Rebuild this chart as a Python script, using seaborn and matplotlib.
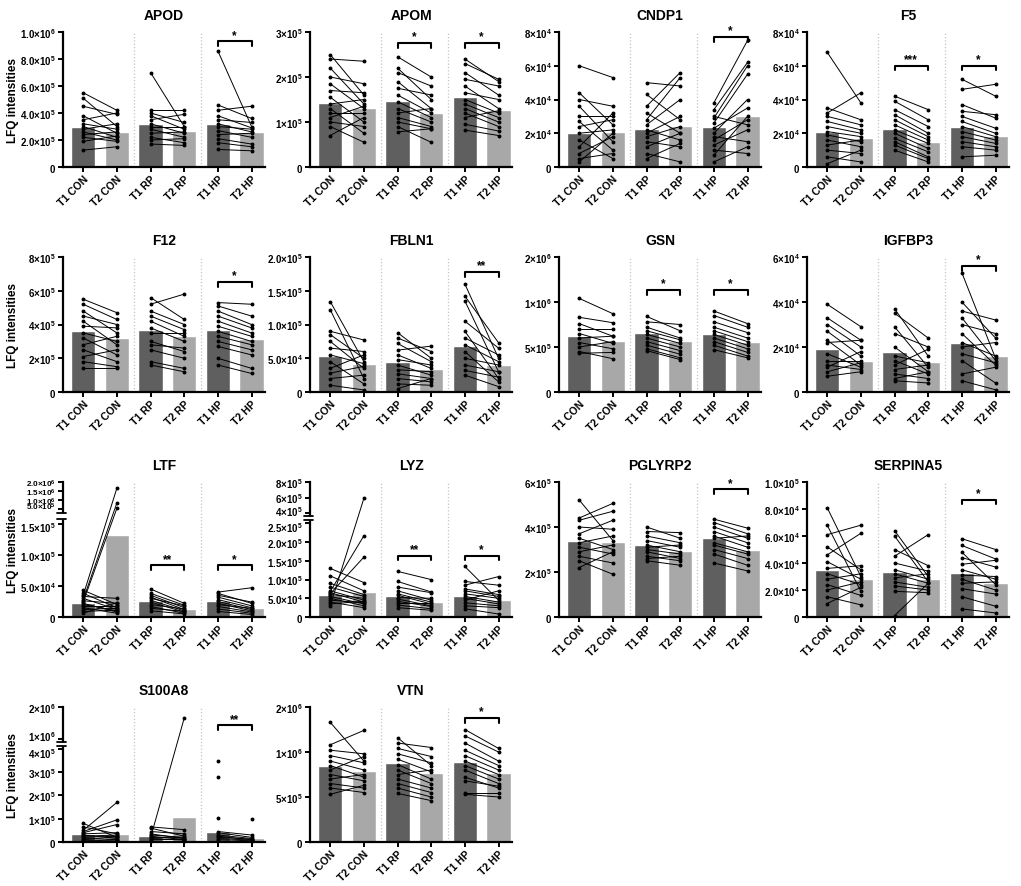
import numpy as np
import pandas as pd
import seaborn as sns
import matplotlib
matplotlib.use('Agg')
import matplotlib.pyplot as plt
import matplotlib.transforms as mtransforms

sns.set_style('ticks')
plt.rcParams['font.family'] = ['Liberation Sans', 'DejaVu Sans']
plt.rcParams['mathtext.fontset'] = 'custom'
plt.rcParams['mathtext.rm'] = 'Liberation Sans'
plt.rcParams['mathtext.bf'] = 'Liberation Sans:bold'
for k in ('text.color', 'axes.labelcolor', 'xtick.color', 'ytick.color', 'axes.edgecolor'):
    plt.rcParams[k] = 'black'

groups = ['T1 CON', 'T2 CON', 'T1 RP', 'T2 RP', 'T1 HP', 'T2 HP']

# each protein: bar means, paired subjects (T1 -> T2) for CON / RP / HP,
# y ticks (same unit as the values), tick labels, significance (group, y, stars)

# APOD, values in 1e5
APOD_bars = [3.0, 2.6, 3.15, 2.65, 3.2, 2.6]
APOD_t1 = [[5.5, 5.1, 4.5, 3.8, 3.5, 3.2, 3.0, 2.8, 2.6, 2.4, 2.2, 1.9, 1.25],
           [7.0, 4.2, 4.0, 3.8, 3.5, 3.2, 3.0, 2.8, 2.5, 2.2, 2.0, 1.7],
           [8.6, 4.6, 4.2, 3.8, 3.5, 3.2, 3.0, 2.7, 2.4, 2.1, 1.8, 1.3]]
APOD_t2 = [[4.2, 3.0, 3.9, 2.5, 4.0, 2.8, 2.2, 3.2, 2.0, 2.6, 1.9, 2.3, 1.5],
           [3.0, 4.2, 3.3, 2.8, 3.9, 2.5, 3.0, 2.2, 2.6, 1.8, 2.1, 1.6],
           [3.0, 3.6, 4.5, 2.9, 3.3, 2.6, 2.8, 2.2, 2.5, 1.7, 1.5, 1.2]]
APOD_ticks = [0, 2, 4, 6, 8, 10]
APOD_labels = ['0', '2.0×10^5', '4.0×10^5', '6.0×10^5', '8.0×10^5', '1.0×10^6']
APOD_sig = [(2, 9.3, '*')]

# APOM, values in 1e5
APOM_bars = [1.43, 1.32, 1.46, 1.19, 1.55, 1.26]
APOM_t1 = [[2.5, 2.4, 2.2, 2.0, 1.85, 1.7, 1.55, 1.4, 1.3, 1.2, 1.1, 1.0, 0.9, 0.7],
           [2.45, 2.2, 2.1, 1.9, 1.75, 1.6, 1.45, 1.3, 1.2, 1.1, 1.0, 0.9, 0.78],
           [2.4, 2.3, 2.1, 1.95, 1.8, 1.65, 1.5, 1.4, 1.3, 1.2, 1.1, 0.95, 0.82]]
APOM_t2 = [[1.6, 2.35, 1.4, 1.85, 1.3, 1.65, 1.0, 1.5, 0.75, 1.2, 1.35, 0.9, 0.55, 1.1],
           [2.0, 1.5, 1.8, 1.3, 1.6, 1.2, 1.1, 1.0, 1.3, 0.9, 0.85, 0.55, 0.85],
           [1.9, 1.95, 1.6, 1.8, 1.3, 1.5, 1.2, 1.1, 1.0, 0.9, 1.25, 0.8, 0.7]]
APOM_ticks = [0, 1, 2, 3]
APOM_labels = ['0', '1×10^5', '2×10^5', '3×10^5']
APOM_sig = [(1, 2.75, '*'), (2, 2.75, '*')]

# CNDP1, values in 1e4
CNDP1_bars = [2.0, 2.1, 2.25, 2.45, 2.35, 3.0]
CNDP1_t1 = [[6.0, 4.4, 4.0, 3.6, 3.0, 2.7, 2.4, 2.0, 1.6, 1.2, 0.8, 0.5, 0.3],
            [5.0, 4.3, 3.6, 3.2, 2.8, 2.5, 2.2, 2.0, 1.8, 1.5, 1.2, 0.8, 0.5],
            [3.8, 3.4, 3.0, 2.9, 2.6, 2.3, 2.0, 1.8, 1.6, 1.3, 1.0, 0.7, 0.3]]
CNDP1_t2 = [[5.3, 2.5, 3.6, 1.5, 3.0, 1.0, 2.8, 2.2, 0.5, 3.2, 1.8, 0.8, 2.0],
            [4.8, 2.8, 5.6, 2.0, 5.3, 4.0, 1.6, 3.0, 2.4, 1.2, 2.0, 0.3, 1.4],
            [7.5, 6.2, 2.5, 6.0, 5.5, 3.5, 4.0, 1.5, 2.8, 2.2, 0.8, 3.0, 1.2]]
CNDP1_ticks = [0, 2, 4, 6, 8]
CNDP1_labels = ['0', '2×10^4', '4×10^4', '6×10^4', '8×10^4']
CNDP1_sig = [(2, 7.7, '*')]

# F5, values in 1e4
F5_bars = [2.05, 1.7, 2.25, 1.5, 2.4, 1.85]
F5_t1 = [[6.8, 3.5, 3.2, 3.0, 2.7, 2.4, 2.1, 1.9, 1.6, 1.3, 1.0, 0.6, 0.2],
         [4.2, 3.9, 3.4, 3.1, 2.8, 2.5, 2.2, 2.0, 1.7, 1.5, 1.3, 1.0],
         [5.2, 4.6, 3.7, 3.3, 3.0, 2.7, 2.4, 2.1, 1.8, 1.5, 1.2, 0.6]]
F5_t2 = [[3.8, 2.8, 4.4, 2.5, 2.2, 2.0, 1.8, 1.5, 1.2, 1.6, 0.8, 0.3, 1.0],
         [3.4, 2.8, 2.4, 2.0, 1.8, 1.6, 1.4, 1.1, 0.9, 0.6, 0.5, 0.3],
         [4.2, 4.9, 2.9, 3.1, 2.3, 2.0, 1.8, 1.6, 1.4, 1.2, 1.0, 0.7]]
F5_ticks = [0, 2, 4, 6, 8]
F5_labels = ['0', '2×10^4', '4×10^4', '6×10^4', '8×10^4']
F5_sig = [(1, 6.0, '***'), (2, 6.0, '*')]

# F12, values in 1e5
F12_bars = [3.6, 3.2, 3.7, 3.3, 3.65, 3.15]
F12_t1 = [[5.5, 5.2, 4.8, 4.5, 4.2, 3.9, 3.5, 3.2, 2.8, 2.5, 2.1, 1.8, 1.4],
          [5.6, 5.2, 4.8, 4.5, 4.2, 3.8, 3.5, 3.0, 2.8, 2.5, 1.8, 1.6],
          [5.3, 5.1, 4.8, 4.5, 4.2, 3.9, 3.6, 3.3, 3.0, 2.7, 2.0, 1.6]]
F12_t2 = [[4.7, 4.3, 3.5, 4.0, 2.8, 3.8, 3.0, 2.2, 3.3, 1.8, 2.5, 1.5, 1.4],
          [4.3, 5.8, 4.0, 3.7, 3.3, 3.0, 3.5, 2.4, 2.6, 2.0, 1.4, 1.2],
          [5.2, 4.5, 4.0, 3.8, 3.5, 3.3, 3.0, 2.8, 2.5, 2.2, 1.4, 1.1]]
F12_ticks = [0, 2, 4, 6, 8]
F12_labels = ['0', '2×10^5', '4×10^5', '6×10^5', '8×10^5']
F12_sig = [(2, 6.5, '*')]

# FBLN1, values in 1e4
FBLN1_bars = [5.35, 4.2, 4.5, 3.4, 6.8, 4.05]
FBLN1_t1 = [[13.4, 12.2, 9.0, 8.5, 7.5, 6.5, 5.5, 4.5, 3.5, 2.8, 2.0, 1.0],
            [8.8, 8.0, 7.2, 6.2, 5.5, 4.8, 4.0, 3.3, 2.7, 2.0, 1.2, 0.5],
            [16.0, 14.2, 13.5, 10.5, 9.0, 8.0, 7.0, 6.0, 5.0, 4.0, 3.2, 2.5]]
FBLN1_t2 = [[4.5, 2.0, 7.7, 5.0, 3.5, 6.0, 4.2, 1.2, 5.5, 3.8, 2.5, 0.3],
            [5.0, 6.0, 4.5, 6.8, 3.5, 4.0, 2.5, 3.0, 2.0, 1.5, 1.0, 2.0],
            [5.0, 7.3, 3.0, 6.5, 2.0, 5.5, 4.5, 1.5, 4.0, 3.0, 2.2, 0.8]]
FBLN1_ticks = [0, 5, 10, 15, 20]
FBLN1_labels = ['0', '5.0×10^4', '1.0×10^5', '1.5×10^5', '2.0×10^5']
FBLN1_sig = [(2, 17.8, '**')]

# GSN, values in 1e5 (top tick is labelled 2×10^6 in the source)
GSN_bars = [6.25, 5.7, 6.6, 5.7, 6.45, 5.6]
GSN_t1 = [[10.4, 8.3, 7.6, 7.0, 6.5, 6.0, 5.5, 5.0, 4.5, 4.3],
          [8.4, 7.8, 7.2, 6.8, 6.4, 6.0, 5.6, 5.2, 4.8, 4.6],
          [9.0, 8.5, 7.8, 7.2, 6.8, 6.4, 6.0, 5.6, 5.2, 4.7]]
GSN_t2 = [[8.7, 7.7, 6.2, 7.0, 5.4, 6.2, 4.8, 5.6, 3.7, 4.4],
          [6.8, 7.5, 6.0, 5.8, 5.4, 5.0, 4.6, 4.2, 3.8, 3.6],
          [7.6, 7.2, 6.6, 6.0, 5.6, 5.2, 4.8, 4.4, 4.0, 3.8]]
GSN_ticks = [0, 5, 10, 15]
GSN_labels = ['0', '5×10^5', '1×10^6', '2×10^6']
GSN_sig = [(1, 11.3, '*'), (2, 11.3, '*')]

# IGFBP3, values in 1e4
IGFBP3_bars = [1.9, 1.4, 1.8, 1.35, 2.2, 1.6]
IGFBP3_t1 = [[3.9, 3.3, 3.0, 2.7, 2.3, 2.2, 1.7, 1.4, 1.2, 1.1, 0.9, 0.7],
             [3.7, 3.5, 2.9, 2.6, 2.0, 1.6, 1.4, 1.2, 1.0, 0.8, 0.6, 0.5],
             [5.3, 4.0, 3.6, 3.3, 3.0, 2.6, 2.2, 2.0, 1.7, 1.4, 0.8, 0.5]]
IGFBP3_t2 = [[2.9, 2.3, 2.0, 1.6, 1.2, 2.3, 1.1, 1.4, 1.0, 1.8, 1.3, 0.9],
             [1.6, 2.4, 1.1, 2.0, 0.9, 1.3, 0.8, 1.9, 1.2, 0.6, 0.9, 0.4],
             [1.5, 2.4, 3.2, 1.4, 2.6, 1.2, 1.6, 2.2, 1.3, 0.4, 1.1, 0.1]]
IGFBP3_ticks = [0, 2, 4, 6]
IGFBP3_labels = ['0', '2×10^4', '4×10^4', '6×10^4']
IGFBP3_sig = [(2, 5.6, '*')]

# LTF, values in 1e4, broken axis
LTF_bars = [2.3, 13.1, 2.65, 1.3, 2.5, 1.5]
LTF_t1 = [[4.3, 3.8, 3.3, 3.0, 2.6, 2.2, 2.0, 1.8, 1.5, 1.2, 0.9, 0.6, 3.5, 2.8, 2.4],
          [4.5, 3.8, 3.5, 3.2, 3.0, 2.7, 2.4, 2.0, 1.7, 1.4, 1.0],
          [4.0, 3.8, 3.5, 3.2, 2.8, 2.5, 2.2, 2.0, 1.7, 1.3, 0.9]]
LTF_t2 = [[2.0, 1.5, 3.0, 1.2, 2.2, 0.8, 1.0, 1.8, 0.6, 1.4, 1.1, 2.3, 165, 82, 52],
          [2.2, 1.9, 1.5, 1.2, 1.8, 1.0, 0.8, 1.3, 0.6, 0.9, 0.5],
          [4.7, 2.2, 2.4, 1.8, 1.5, 1.2, 1.0, 1.4, 0.8, 0.6, 0.4]]
LTF_ticks = [0, 5, 10, 15, 50, 100, 150, 200]
LTF_labels = ['0', '5.0×10^4', '1.0×10^5', '1.5×10^5',
              '5.0×10^5', '1.0×10^6', '1.5×10^6', '2.0×10^6']
LTF_sig = [(1, 8.3, '**'), (2, 8.3, '*')]

# LYZ, values in 1e4, broken axis
LYZ_bars = [6.0, 6.6, 5.7, 4.1, 5.7, 4.5]
LYZ_t1 = [[13.0, 11.0, 9.0, 8.0, 7.0, 6.5, 6.0, 5.5, 5.0, 4.5, 4.0, 3.5, 3.0, 6.8, 6.2],
          [12.2, 9.5, 8.0, 7.0, 6.2, 5.8, 5.2, 4.8, 4.2, 3.8, 3.2, 2.5],
          [13.5, 9.5, 8.5, 7.5, 7.0, 6.2, 5.5, 5.0, 4.5, 3.8, 3.0, 2.2]]
LYZ_t2 = [[9.2, 7.0, 6.0, 5.5, 4.5, 4.0, 5.0, 3.5, 3.0, 3.8, 2.5, 4.2, 59, 21.7, 16.0],
          [10.0, 6.7, 6.5, 4.5, 4.0, 3.5, 5.0, 3.0, 2.8, 3.8, 2.2, 1.8],
          [4.5, 8.5, 10.8, 6.0, 5.5, 5.0, 4.0, 3.5, 7.0, 3.0, 2.5, 0.8]]
LYZ_ticks = [0, 5, 10, 15, 20, 25, 40, 60, 80]
LYZ_labels = ['0', '5.0×10^4', '1.0×10^5', '1.5×10^5', '2.0×10^5', '2.5×10^5',
              '4×10^5', '6×10^5', '8×10^5']
LYZ_sig = [(1, 16.4, '**'), (2, 16.4, '*')]

# PGLYRP2, values in 1e5
PGLYRP2_bars = [3.38, 3.32, 3.2, 2.93, 3.52, 2.98]
PGLYRP2_t1 = [[5.2, 4.4, 4.3, 4.0, 3.7, 3.5, 3.3, 3.1, 2.9, 2.7, 2.5, 2.2],
              [4.0, 3.8, 3.6, 3.4, 3.2, 3.1, 3.0, 2.9, 2.7, 2.6, 2.5],
              [4.35, 4.2, 4.0, 3.8, 3.6, 3.5, 3.3, 3.2, 3.0, 2.8, 2.4]]
PGLYRP2_t2 = [[3.4, 5.05, 4.7, 3.9, 4.3, 3.0, 3.6, 2.8, 3.2, 2.4, 1.9, 2.9],
              [3.5, 3.75, 3.3, 3.1, 2.9, 3.2, 2.8, 2.6, 2.5, 2.7, 2.3],
              [3.95, 3.7, 3.5, 3.3, 3.1, 3.6, 2.9, 2.8, 2.6, 2.3, 2.05]]
PGLYRP2_ticks = [0, 2, 4, 6]
PGLYRP2_labels = ['0', '2×10^5', '4×10^5', '6×10^5']
PGLYRP2_sig = [(2, 5.67, '*')]

# SERPINA5, values in 1e4
SERPINA5_bars = [3.45, 2.85, 3.3, 2.85, 3.25, 2.5]
SERPINA5_t1 = [[8.1, 6.8, 6.1, 5.2, 4.6, 4.1, 3.6, 3.2, 2.8, 2.4, 2.0, 1.5, 1.0],
               [6.4, 6.0, 5.0, 4.5, 4.0, 3.5, 3.2, 2.9, 2.6, 2.3, 1.9, 0.1],
               [5.8, 5.3, 4.8, 4.4, 3.9, 3.5, 3.1, 2.8, 2.5, 2.1, 1.5, 0.6]]
SERPINA5_t2 = [[3.0, 1.9, 6.8, 3.5, 6.2, 2.8, 3.8, 2.4, 3.2, 1.6, 2.6, 0.9, 2.2],
               [3.0, 2.6, 3.8, 6.1, 3.4, 2.8, 2.5, 3.2, 2.2, 2.0, 1.8, 2.5],
               [5.0, 4.3, 2.4, 3.7, 4.2, 2.8, 3.0, 2.0, 2.6, 1.7, 0.8, 0.3]]
SERPINA5_ticks = [0, 2, 4, 6, 8, 10]
SERPINA5_labels = ['0', '2.0×10^4', '4.0×10^4', '6.0×10^4', '8.0×10^4', '1.0×10^5']
SERPINA5_sig = [(2, 8.7, '*')]

# S100A8, values in 1e4, broken axis (nan = no partner value)
nan = np.nan
S100A8_bars = [3.3, 3.3, 2.6, 10.7, 4.3, 1.8]
S100A8_t1 = [[8.0, 6.5, 5.0, 4.5, 4.0, 3.5, 3.0, 2.5, 2.0, 1.5, 1.0, 0.5],
             [6.5, 6.0, 4.5, 3.5, 3.0, 2.5, 2.0, 1.5, 1.0, 0.5, 1.8],
             [35.0, 28.0, 10.5, 4.5, 4.0, 3.0, 2.5, 2.0, 1.5, 1.0, nan]]
S100A8_t2 = [[2.0, 3.5, 17.0, 9.5, 7.5, 4.0, 1.5, 3.0, 2.5, 1.0, 2.2, 0.8],
             [5.3, 2.5, 3.5, 1.5, 2.0, 1.0, 1.8, 0.8, 1.2, 0.5, 165],
             [nan, nan, nan, 3.0, 2.0, 1.5, 1.0, 1.2, 0.8, 0.5, 10.0]]
S100A8_ticks = [0, 10, 20, 30, 40, 100, 200]
S100A8_labels = ['0', '1×10^5', '2×10^5', '3×10^5', '4×10^5', '1×10^6', '2×10^6']
S100A8_sig = [(2, 142, '**')]

# VTN, values in 1e5 (top tick is labelled 2×10^6 in the source)
VTN_bars = [8.45, 7.9, 8.75, 7.65, 8.9, 7.65]
VTN_t1 = [[13.3, 10.8, 10.2, 9.6, 9.0, 8.5, 8.0, 7.5, 7.0, 6.5, 6.0, 5.3],
          [11.6, 11.0, 10.4, 9.8, 9.2, 8.6, 8.0, 7.5, 7.0, 6.5, 6.0, 5.4],
          [12.5, 11.8, 11.0, 10.2, 9.6, 9.0, 8.5, 8.0, 7.2, 6.8, 5.5, 5.3]]
VTN_t2 = [[9.0, 12.4, 9.8, 8.8, 8.0, 7.2, 9.5, 6.8, 7.5, 6.0, 5.5, 6.3],
          [8.5, 10.5, 9.5, 8.8, 7.8, 7.0, 6.5, 8.0, 6.0, 5.5, 5.0, 4.6],
          [10.4, 10.0, 9.0, 8.5, 8.0, 7.5, 7.0, 6.5, 6.0, 6.2, 5.5, 5.0]]
VTN_ticks = [0, 5, 10, 15]
VTN_labels = ['0', '5×10^5', '1×10^6', '2×10^6']
VTN_sig = [(2, 13.8, '*')]

# broken-axis mapping: value knots -> relative screen height
LTF_breaks = ([0, 15, 50, 200], [0, 280, 325, 405])
LYZ_breaks = ([0, 25, 40, 80], [0, 282, 313, 407])
S100A8_breaks = ([0, 40, 100, 200], [0, 278, 308, 403])

panels = [
    ('APOD', APOD_bars, APOD_t1, APOD_t2, APOD_ticks, APOD_labels, APOD_sig, None),
    ('APOM', APOM_bars, APOM_t1, APOM_t2, APOM_ticks, APOM_labels, APOM_sig, None),
    ('CNDP1', CNDP1_bars, CNDP1_t1, CNDP1_t2, CNDP1_ticks, CNDP1_labels, CNDP1_sig, None),
    ('F5', F5_bars, F5_t1, F5_t2, F5_ticks, F5_labels, F5_sig, None),
    ('F12', F12_bars, F12_t1, F12_t2, F12_ticks, F12_labels, F12_sig, None),
    ('FBLN1', FBLN1_bars, FBLN1_t1, FBLN1_t2, FBLN1_ticks, FBLN1_labels, FBLN1_sig, None),
    ('GSN', GSN_bars, GSN_t1, GSN_t2, GSN_ticks, GSN_labels, GSN_sig, None),
    ('IGFBP3', IGFBP3_bars, IGFBP3_t1, IGFBP3_t2, IGFBP3_ticks, IGFBP3_labels, IGFBP3_sig, None),
    ('LTF', LTF_bars, LTF_t1, LTF_t2, LTF_ticks, LTF_labels, LTF_sig, LTF_breaks),
    ('LYZ', LYZ_bars, LYZ_t1, LYZ_t2, LYZ_ticks, LYZ_labels, LYZ_sig, LYZ_breaks),
    ('PGLYRP2', PGLYRP2_bars, PGLYRP2_t1, PGLYRP2_t2, PGLYRP2_ticks, PGLYRP2_labels, PGLYRP2_sig, None),
    ('SERPINA5', SERPINA5_bars, SERPINA5_t1, SERPINA5_t2, SERPINA5_ticks, SERPINA5_labels, SERPINA5_sig, None),
    ('S100A8', S100A8_bars, S100A8_t1, S100A8_t2, S100A8_ticks, S100A8_labels, S100A8_sig, S100A8_breaks),
    ('VTN', VTN_bars, VTN_t1, VTN_t2, VTN_ticks, VTN_labels, VTN_sig, None),
]

bar_colors = ['#5f5f5f', '#a8a8a8'] * 3
W, H = 1021, 887
col_left = [63, 310, 559, 807]
ax_w, ax_h = 202, 135


def tick_text(s):
    if '×10^' not in s:
        return r'$\mathbf{' + s + '}$'
    m, e = s.split('×10^')
    return r'$\mathbf{' + m + r'{\times}10^{' + e + '}}$'


def draw_panel(ax, fig, name, bars, t1, t2, ticks, labels, sig, breaks):
    df = pd.DataFrame({'group': groups, 'value': bars})
    sns.barplot(data=df, x='group', y='value', hue='group', palette=bar_colors,
                width=0.72, saturation=1, legend=False, ax=ax, zorder=1)

    if breaks is not None:
        vals, pos = breaks
        fwd = lambda y: np.interp(y, vals, pos)
        inv = lambda p: np.interp(p, pos, vals)
        ax.set_yscale('function', functions=(fwd, inv))

    for g in range(3):
        for a, b in zip(t1[g], t2[g]):
            ax.plot([2 * g, 2 * g + 1], [a, b], color='black', lw=0.7,
                    marker='o', ms=1.8, zorder=3, clip_on=False)

    for xs in (1.5, 3.5):
        ax.axvline(xs, color='#c4c4c4', ls=':', lw=0.9, zorder=0)

    ax.set_xlim(-0.6, 5.4)
    ax.set_ylim(0, ticks[-1])
    ax.set_yticks(ticks)
    ax.set_yticklabels([tick_text(s) for s in labels])
    ax.set_xlabel('')
    ax.set_ylabel('')
    ax.tick_params(axis='y', labelsize=7, length=3.5, width=1.4, pad=1.5)
    ax.tick_params(axis='x', labelsize=7.6, length=3.5, width=1.4, pad=1)
    for lab in ax.get_xticklabels():
        lab.set_rotation(45)
        lab.set_ha('right')
        lab.set_rotation_mode('anchor')
        lab.set_fontweight('bold')
    if breaks is not None:
        # labels on each side of the break are pushed apart a little
        ylabs = ax.get_yticklabels()
        upper = [i for i, v in enumerate(ticks) if v > breaks[0][1]]
        below = upper[0] - 1
        dense = len(upper) > 3
        for i in upper:
            if dense:
                ylabs[i].set_fontsize(5.8)
        up = mtransforms.ScaledTranslation(0, 2.5 / 72, fig.dpi_scale_trans)
        dn = mtransforms.ScaledTranslation(0, -2.0 / 72, fig.dpi_scale_trans)
        ylabs[upper[0]].set_transform(ylabs[upper[0]].get_transform() + up)
        ylabs[below].set_transform(ylabs[below].get_transform() + dn)
    sns.despine(ax=ax)
    for sp in ('left', 'bottom'):
        ax.spines[sp].set_linewidth(1.6)
    ax.set_title(name, fontsize=10, fontweight='bold', pad=9)

    blend = mtransforms.blended_transform_factory(ax.transData, ax.transAxes)
    to_frac = lambda y: ax.transAxes.inverted().transform(ax.transData.transform((0, y)))[1]
    for g, y, stars in sig:
        x0, x1 = 2 * g, 2 * g + 1
        yf = to_frac(y)
        ax.plot([x0, x0, x1, x1], [yf - 0.035, yf, yf, yf - 0.035], transform=blend,
                color='black', lw=1.5, clip_on=False, zorder=4)
        ax.text((x0 + x1) / 2, yf + 0.005, stars, transform=blend, ha='center',
                va='bottom', fontsize=8.5, fontweight='bold')

    if breaks is not None:
        vals, pos = breaks
        lo = pos[1] + 0.3 * (pos[2] - pos[1])
        hi = pos[1] + 0.7 * (pos[2] - pos[1])
        flo, fhi = lo / pos[-1], hi / pos[-1]
        ax.plot([0, 0], [flo, fhi], transform=ax.transAxes, color='white', lw=3.5,
                clip_on=False, zorder=6, solid_capstyle='butt')
        for f in (flo, fhi):
            ax.plot([-0.03, 0.015], [f, f], transform=ax.transAxes, color='black',
                    lw=1.3, clip_on=False, zorder=7)


fig = plt.figure(figsize=(W / 100, H / 100), dpi=100)
for i, p in enumerate(panels):
    r, c = divmod(i, 4)
    bottom_px = 168 + 225 * r
    ax = fig.add_axes([col_left[c] / W, 1 - bottom_px / H, ax_w / W, ax_h / H])
    draw_panel(ax, fig, *p)
    if c == 0:
        ax.set_ylabel('LFQ intensities', fontsize=8.5, fontweight='bold')
        ax.yaxis.set_label_coords(-0.22, 0.5)

fig.savefig('out.png', dpi=100)
